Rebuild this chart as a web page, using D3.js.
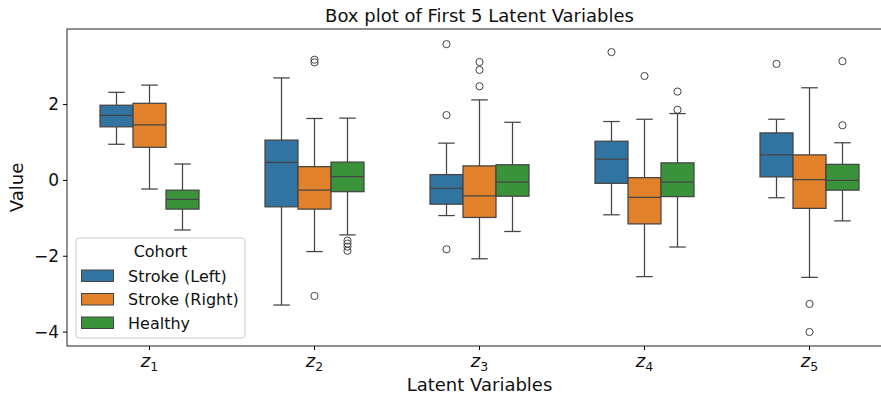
<!DOCTYPE html>
<html>
<head>
<meta charset="utf-8">
<script src="https://cdn.jsdelivr.net/npm/d3@7"></script>
<style>
  body { margin: 0; background: #fff; }
  svg { font-family: "DejaVu Sans", sans-serif; }
</style>
</head>
<body>
<svg id="chart" width="881" height="398"></svg>
<script>
// categories and groups
const latents = ["1", "2", "3", "4", "5"];
const cohorts = ["Stroke (Left)", "Stroke (Right)", "Healthy"];
const yTicks = [-4, -2, 0, 2];

// box stats per latent: [whisker low, q1, median, q3, whisker high]
const strokeLeft = [
  [0.94, 1.40, 1.70, 1.97, 2.31],
  [-3.30, -0.71, 0.46, 1.05, 2.69],
  [-0.94, -0.64, -0.22, 0.14, 0.97],
  [-0.92, -0.09, 0.55, 1.02, 1.54],
  [-0.47, 0.08, 0.66, 1.24, 1.60]
];
const strokeRight = [
  [-0.24, 0.86, 1.45, 2.02, 2.50],
  [-1.89, -0.77, -0.27, 0.35, 1.62],
  [-2.08, -0.99, -0.42, 0.37, 2.11],
  [-2.55, -1.16, -0.46, 0.06, 1.60],
  [-2.57, -0.75, 0.01, 0.66, 2.43]
];
const healthy = [
  [-1.32, -0.77, -0.51, -0.27, 0.42],
  [-1.45, -0.31, 0.09, 0.47, 1.63],
  [-1.36, -0.43, -0.06, 0.40, 1.52],
  [-1.77, -0.44, -0.06, 0.45, 1.75],
  [-1.08, -0.27, -0.01, 0.41, 0.98]
];

// outliers per latent
const outLeft = [[], [], [3.58, 1.71, -1.83], [3.37], [3.06]];
const outRight = [[], [3.10, 3.17, -3.06], [3.11, 2.90, 2.47], [2.74], [-3.27, -4.01]];
const outHealthy = [[], [-1.60, -1.68, -1.76, -1.87], [], [2.33, 1.85], [3.13, 1.44]];

const colors = ["#3274a1", "#e1812c", "#3a923a"];
const lineColor = "#444";

const stats = [strokeLeft, strokeRight, healthy];
const outs = [outLeft, outRight, outHealthy];

const svg = d3.select("#chart");
const mLeft = 67, mTop = 29, mRight = 892, mBottom = 346;

const x = d3.scaleBand().domain(latents).range([mLeft, mRight]).padding(0);
const hue = d3.scaleBand().domain(cohorts).range([0, x.bandwidth() * 0.6]);
const y = d3.scaleLinear().domain([-4.38, 3.98]).range([mBottom, mTop]);

// boxes
cohorts.forEach((c, ci) => {
  const g = svg.append("g");
  latents.forEach((l, li) => {
    const s = stats[ci][li];
    const bx = x(l) + x.bandwidth() * 0.2 + hue(c);
    const bw = hue.bandwidth();
    const cx = bx + bw / 2;
    // whiskers
    g.append("line").attr("x1", cx).attr("x2", cx).attr("y1", y(s[0])).attr("y2", y(s[1]))
      .attr("stroke", lineColor).attr("stroke-width", 1.25);
    g.append("line").attr("x1", cx).attr("x2", cx).attr("y1", y(s[3])).attr("y2", y(s[4]))
      .attr("stroke", lineColor).attr("stroke-width", 1.25);
    // caps
    [s[0], s[4]].forEach(v => {
      g.append("line").attr("x1", cx - bw / 4).attr("x2", cx + bw / 4)
        .attr("y1", y(v)).attr("y2", y(v))
        .attr("stroke", lineColor).attr("stroke-width", 1.25);
    });
    // box
    g.append("rect").attr("x", bx).attr("width", bw)
      .attr("y", y(s[3])).attr("height", y(s[1]) - y(s[3]))
      .attr("fill", colors[ci]).attr("stroke", lineColor).attr("stroke-width", 1.25);
    // median
    g.append("line").attr("x1", bx).attr("x2", bx + bw).attr("y1", y(s[2])).attr("y2", y(s[2]))
      .attr("stroke", lineColor).attr("stroke-width", 1.25);
    // fliers
    g.selectAll(null).data(outs[ci][li]).enter().append("circle")
      .attr("cx", cx).attr("cy", d => y(d)).attr("r", 3.6)
      .attr("fill", "none").attr("stroke", lineColor).attr("stroke-width", 1);
  });
});

// frame
svg.append("rect").attr("x", mLeft).attr("y", mTop).attr("width", mRight - mLeft).attr("height", mBottom - mTop)
  .attr("fill", "none").attr("stroke", "#222").attr("stroke-width", 1);

// y axis
const yAxis = svg.append("g").attr("transform", `translate(${mLeft},0)`)
  .call(d3.axisLeft(y).tickValues(yTicks).tickSize(4).tickPadding(4)
    .tickFormat(d => d < 0 ? "\u2212" + Math.abs(d) : d));
yAxis.select(".domain").remove();
yAxis.selectAll("text").attr("font-size", 17).attr("font-family", "DejaVu Sans").attr("fill", "#111");

// x axis
const xAxis = svg.append("g").attr("transform", `translate(0,${mBottom})`)
  .call(d3.axisBottom(x).tickSize(4).tickFormat(""));
xAxis.select(".domain").remove();
xAxis.selectAll(".tick").each(function(d) {
  const t = d3.select(this).append("text").attr("y", 21).attr("fill", "#111")
    .attr("text-anchor", "middle").attr("font-family", "DejaVu Sans");
  t.append("tspan").attr("font-size", 18).attr("font-style", "italic").text("z");
  t.append("tspan").attr("font-size", 12.5).attr("dy", 4).text(d);
});

// titles
svg.append("text").attr("x", (mLeft + mRight) / 2).attr("y", 22).attr("text-anchor", "middle")
  .attr("font-size", 18).attr("fill", "#111").text("Box plot of First 5 Latent Variables");
svg.append("text").attr("x", (mLeft + mRight) / 2).attr("y", 391).attr("text-anchor", "middle")
  .attr("font-size", 18).attr("fill", "#111").text("Latent Variables");
svg.append("text").attr("transform", `translate(23,${(mTop + mBottom) / 2}) rotate(-90)`)
  .attr("text-anchor", "middle").attr("font-size", 18).attr("fill", "#111").text("Value");

// legend
const lg = svg.append("g").attr("transform", "translate(76,238)");
lg.append("rect").attr("width", 169).attr("height", 100).attr("rx", 3)
  .attr("fill", "#fff").attr("fill-opacity", 0.8).attr("stroke", "#ccc");
lg.append("text").attr("x", 84.5).attr("y", 19).attr("text-anchor", "middle")
  .attr("font-size", 16).attr("fill", "#111").text("Cohort");
cohorts.forEach((c, i) => {
  const ry = 38 + i * 23.5;
  lg.append("rect").attr("x", 5.5).attr("y", ry - 6).attr("width", 32).attr("height", 11.5)
    .attr("fill", colors[i]).attr("stroke", lineColor).attr("stroke-width", 1);
  lg.append("text").attr("x", 52).attr("y", ry + 5.5).attr("font-size", 16).attr("fill", "#111").text(c);
});
</script>
</body>
</html>
